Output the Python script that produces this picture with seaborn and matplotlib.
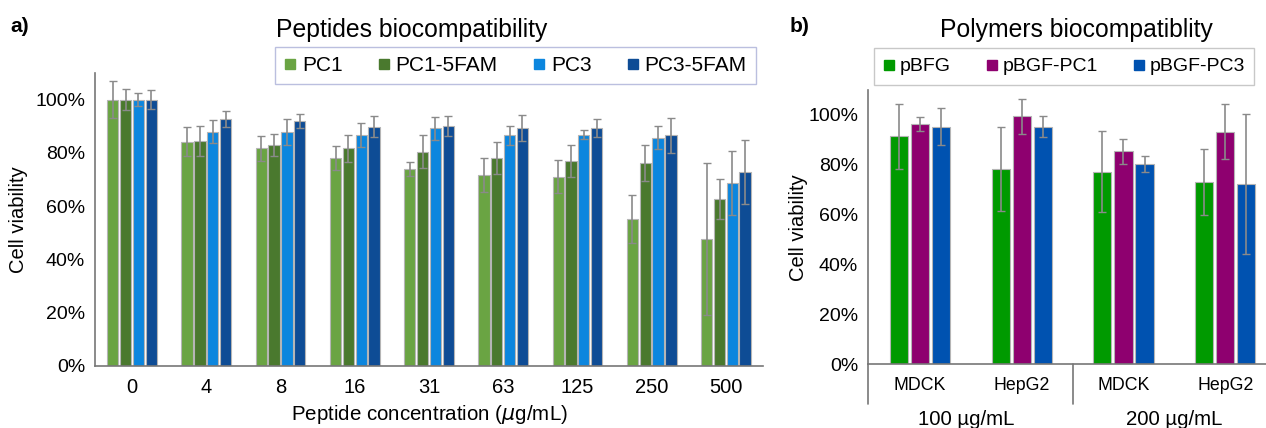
import matplotlib
matplotlib.use("Agg")
import matplotlib.pyplot as plt
from matplotlib.lines import Line2D
import matplotlib.transforms as mtransforms
import pandas as pd
import seaborn as sns

# ── Données ──
concentrations = ["0", "4", "8", "16", "31", "63", "125", "250", "500"]
peptides = ["PC1", "PC1-5FAM", "PC3", "PC3-5FAM"]
pc1 = [100, 84.2, 81.7, 78.0, 74.0, 71.7, 71.1, 55.2, 47.6]
pc1_5fam = [100, 84.5, 83.0, 81.7, 80.5, 77.9, 77.0, 76.2, 62.6]
pc3 = [100, 88.0, 88.0, 86.7, 89.2, 86.6, 86.9, 85.7, 68.8]
pc3_5fam = [100, 92.7, 92.0, 89.9, 90.1, 89.4, 89.4, 86.6, 72.8]
pc1_err = [7.0, 5.4, 4.6, 4.4, 2.5, 6.3, 6.3, 9.0, 28.5]
pc1_5fam_err = [4.0, 5.6, 4.0, 5.2, 6.2, 6.0, 6.0, 6.8, 7.6]
pc3_err = [2.5, 4.4, 4.9, 4.4, 4.4, 3.6, 1.7, 4.4, 12.0]
pc3_5fam_err = [3.5, 3.0, 2.5, 4.0, 3.8, 4.9, 3.5, 6.6, 12.0]

cells = ["MDCK", "HepG2", "MDCK", "HepG2"]
doses = ["100 µg/mL", "200 µg/mL"]
polymers = ["pBFG", "pBGF-PC1", "pBGF-PC3"]
pbfg = [91.4, 78.3, 77.2, 73.1]
pbgf_pc1 = [96.4, 99.4, 85.4, 93.3]
pbgf_pc3 = [95.2, 95.2, 80.2, 72.3]
pbfg_err = [13.0, 17.0, 16.2, 13.2]
pbgf_pc1_err = [2.8, 7.0, 5.0, 11.1]
pbgf_pc3_err = [7.4, 4.2, 3.2, 28.0]

pep_colors = ["#6AA443", "#4A792E", "#0C86DE", "#0E4C95"]
pol_colors = ["#009A00", "#8E006F", "#0052B0"]

# tableaux longs pour seaborn
df_pep = pd.DataFrame({
    "conc": concentrations * 4,
    "peptide": [p for p in peptides for _ in concentrations],
    "viab": pc1 + pc1_5fam + pc3 + pc3_5fam,
    "err": pc1_err + pc1_5fam_err + pc3_err + pc3_5fam_err,
})
cond = [f"{c} {d}" for d, c in zip([doses[0]] * 2 + [doses[1]] * 2, cells)]
df_pol = pd.DataFrame({
    "cond": cond * 3,
    "polymer": [p for p in polymers for _ in cond],
    "viab": pbfg + pbgf_pc1 + pbgf_pc3,
    "err": pbfg_err + pbgf_pc1_err + pbgf_pc3_err,
})

sns.set_theme(style="white")
plt.rcParams["font.family"] = ["Liberation Sans", "DejaVu Sans"]
plt.rcParams["text.color"] = "black"
plt.rcParams["axes.labelcolor"] = "black"
plt.rcParams["xtick.color"] = "black"
plt.rcParams["ytick.color"] = "black"

fig = plt.figure(figsize=(12.66, 4.28), dpi=100)
ax1 = fig.add_axes([0.0750, 0.1449, 0.5277, 0.6846])
ax2 = fig.add_axes([0.6856, 0.1488, 0.3144, 0.6409])

spine_col = "#777777"


def draw(ax, df, xcol, hue, order, colors, width, gap):
    sns.barplot(data=df, x=xcol, y="viab", hue=hue, hue_order=order,
                palette=colors, saturation=1, errorbar=None, width=width, gap=gap,
                edgecolor="#b5b5b5", linewidth=0.8, legend=False, ax=ax)
    # barres d'erreur sur les centres des barres dessinées
    for cont, name in zip(ax.containers, order):
        errs = df[df[hue] == name]["err"].values
        xs = [b.get_x() + b.get_width() / 2 for b in cont]
        hs = [b.get_height() for b in cont]
        ax.errorbar(xs, hs, yerr=errs, fmt="none", ecolor="#8a8a8a",
                    elinewidth=1.2, capsize=3, capthick=1.0, zorder=3)
    ax.set_ylim(0, 110)
    ax.set_yticks(range(0, 101, 20))
    ax.set_yticklabels([f"{v}%" for v in range(0, 101, 20)], fontsize=14)
    ax.tick_params(axis="both", length=0, pad=7)
    for s in ["top", "right"]:
        ax.spines[s].set_visible(False)
    for s in ["left", "bottom"]:
        ax.spines[s].set_color(spine_col)
        ax.spines[s].set_linewidth(1.2)
    ax.set_ylabel("Cell viability", fontsize=14.5, labelpad=5)


# ── Panneau a) ──
draw(ax1, df_pep, "conc", "peptide", peptides, pep_colors, 0.69, 0.12)
ax1.set_xlim(-0.5, 8.5)
ax1.tick_params(axis="x", labelsize=14.5, pad=9)
ax1.set_xlabel("Peptide concentration ($\\mu$g/mL)", fontsize=14.8, labelpad=4)

h1 = [Line2D([], [], marker="s", linestyle="", color=c, markersize=7.5) for c in pep_colors]
leg1 = fig.legend(h1, peptides, loc="center", bbox_to_anchor=(0.4072, 0.847),
                  ncol=4, fontsize=15, frameon=True, fancybox=False,
                  handlelength=0.6, handletextpad=0.25, columnspacing=1.7,
                  borderpad=0.45)
leg1.get_frame().set_edgecolor("#aab0d8")
leg1.get_frame().set_linewidth(1.0)

fig.text(0.3254, 0.930, "Peptides biocompatibility", ha="center", va="center", fontsize=17.8)
fig.text(0.008, 0.937, "a)", ha="left", va="center", fontsize=15, fontweight="bold")

# ── Panneau b) ──
draw(ax2, df_pol, "cond", "polymer", polymers, pol_colors, 0.62, 0.14)
ax2.set_xlim(-0.51, 3.40)
ax2.set_xticks(range(len(cells)))
ax2.set_xticklabels(cells, fontsize=12.8)
ax2.tick_params(axis="x", pad=9)
ax2.set_xlabel("")
ax2.yaxis.set_label_coords(-0.15, 0.5)

trans = mtransforms.blended_transform_factory(ax2.transData, ax2.transAxes)
for xsep in [-0.51, 1.5]:
    ax2.plot([xsep, xsep], [0, -0.145], transform=trans, color=spine_col,
             lw=1.2, clip_on=False)
for i, d in enumerate(doses):
    ax2.text(2 * i + 0.5 - 0.05 * (1 - i), -0.2, d, transform=trans,
             ha="center", va="center", fontsize=14.7)

h2 = [Line2D([], [], marker="s", linestyle="", color=c, markersize=7.5) for c in pol_colors]
leg2 = fig.legend(h2, polymers, loc="center", bbox_to_anchor=(0.8404, 0.8446),
                  ncol=3, fontsize=14, frameon=True, fancybox=False,
                  handlelength=0.6, handletextpad=0.25, columnspacing=1.8,
                  borderpad=0.5)
leg2.get_frame().set_edgecolor("#bbbbbb")
leg2.get_frame().set_linewidth(1.0)

fig.text(0.850, 0.930, "Polymers biocompatiblity", ha="center", va="center", fontsize=17.8)
fig.text(0.624, 0.937, "b)", ha="left", va="center", fontsize=15, fontweight="bold")

fig.savefig("out.png", dpi=100)
